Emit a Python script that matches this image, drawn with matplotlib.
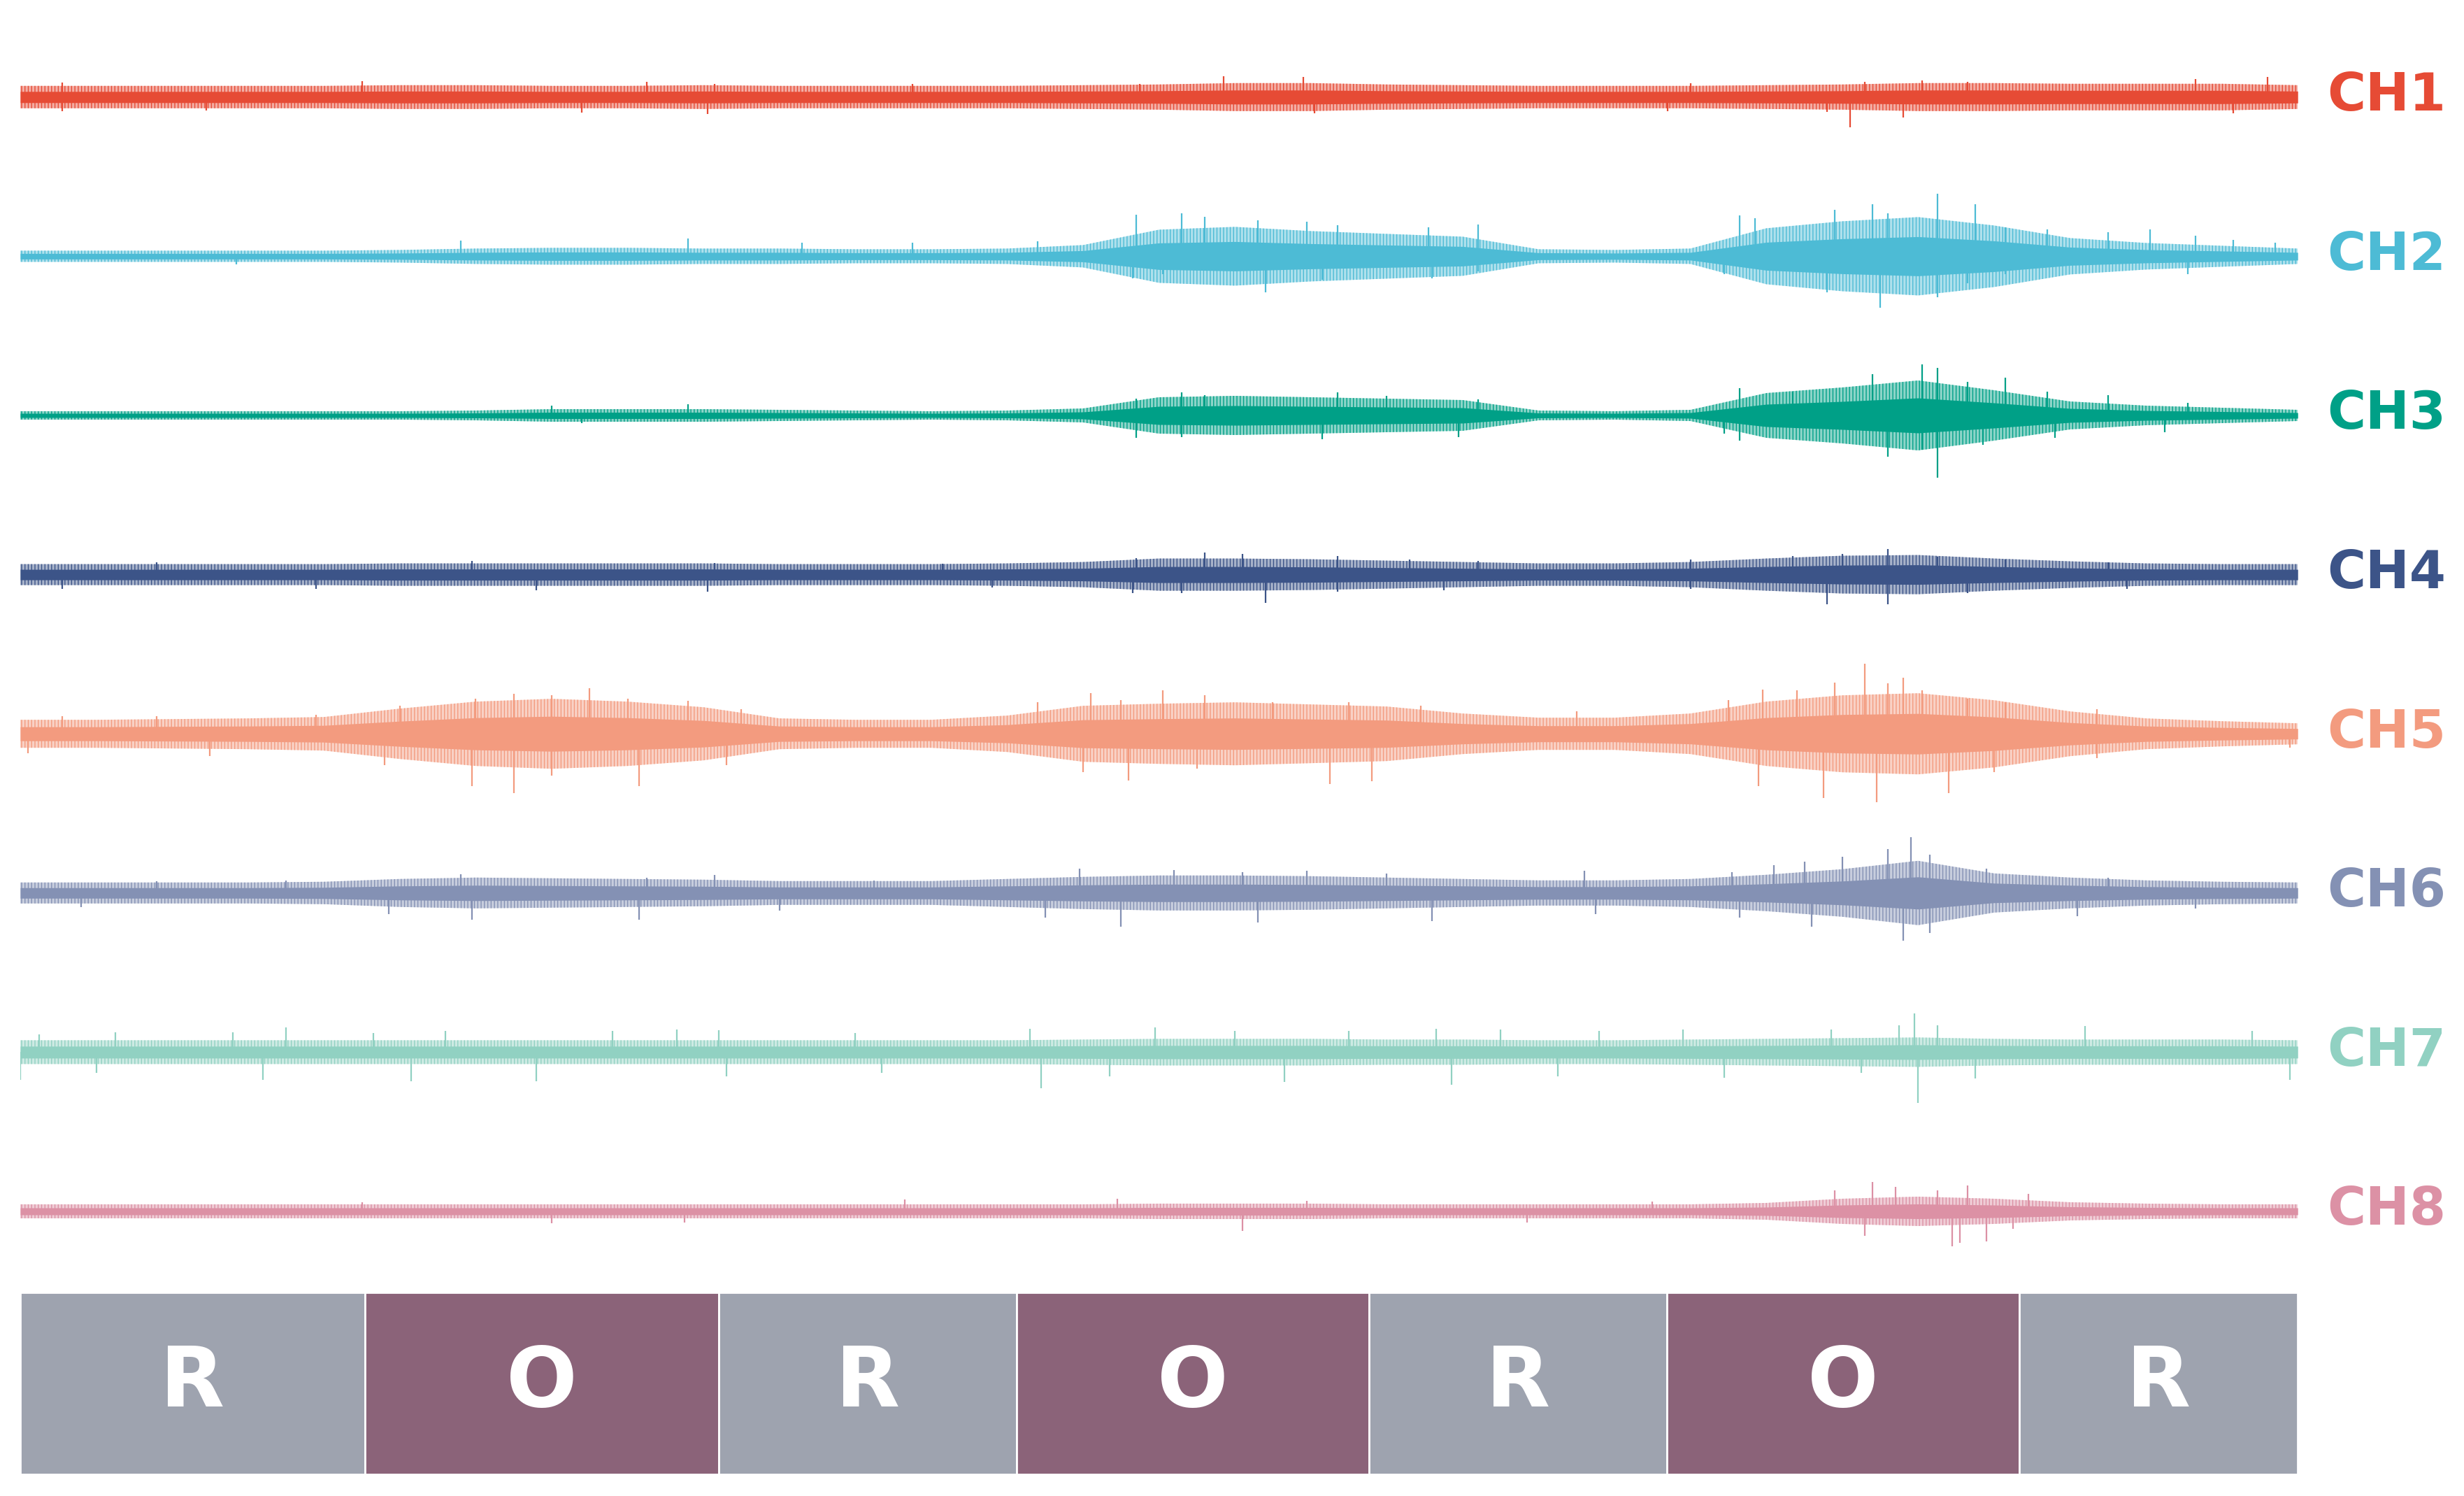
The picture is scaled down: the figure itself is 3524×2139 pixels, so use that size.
import matplotlib.pyplot as plt
import matplotlib.transforms as mtransforms
import numpy as np

# Time base (s) of the envelope readings, shared by all channels
env_t = np.arange(0, 61, 2)

# Envelope half-widths of the hairy part of each trace (a.u.)
ch1_env = [16, 16, 16, 16, 16, 17, 17, 16, 16, 17, 16, 16, 16, 16, 17, 18,
           20, 20, 18, 17, 16, 16, 16, 17, 18, 20, 20, 19, 19, 19, 17]
ch2_env = [8, 8, 8, 8, 8, 9, 11, 12, 12, 11, 11, 10, 10, 11, 16, 38,
           42, 36, 32, 28, 10, 9, 11, 40, 50, 56, 44, 26, 19, 15, 11]
ch3_env = [6, 6, 6, 6, 6, 6, 7, 9, 9, 9, 8, 7, 6, 7, 10, 26,
           28, 26, 24, 22, 7, 6, 8, 32, 40, 50, 36, 20, 14, 11, 8]
ch4_env = [15, 15, 15, 15, 15, 16, 16, 16, 16, 16, 15, 15, 15, 16, 18, 23,
           23, 22, 20, 18, 16, 16, 18, 23, 27, 28, 23, 19, 16, 15, 15]
ch5_env = [20, 20, 21, 22, 24, 36, 46, 50, 46, 38, 22, 20, 20, 26, 40, 43,
           45, 42, 39, 29, 23, 23, 29, 46, 55, 58, 48, 32, 22, 18, 15]
ch6_env = [15, 15, 15, 15, 16, 20, 22, 21, 20, 19, 17, 17, 17, 20, 23, 25,
           25, 24, 22, 20, 18, 18, 20, 26, 34, 46, 28, 22, 18, 16, 15]
ch7_env = [17, 17, 17, 17, 17, 17, 17, 17, 17, 17, 17, 17, 17, 17, 18, 19,
           19, 19, 18, 18, 17, 17, 18, 19, 20, 21, 19, 18, 18, 18, 17]
ch8_env = [10, 10, 10, 10, 10, 10, 10, 10, 10, 10, 10, 10, 10, 10, 10, 11,
           11, 11, 10, 10, 10, 10, 10, 12, 18, 21, 18, 13, 11, 10, 10]

# Prominent spikes (time in s, signed peak in a.u.)
ch1_spk = [(1.1, 21), (1.1, -20), (4.9, -19), (9.0, 23), (14.8, -22), (16.5, 22),
           (18.1, -24), (18.3, 19), (23.5, 19), (29.5, 19), (31.7, 30), (33.8, 29),
           (34.1, -23), (43.4, -20), (44.0, 20), (47.6, -21), (48.2, -43), (48.6, 22),
           (49.6, -29), (50.1, 24), (51.3, 22), (57.3, 26), (58.3, -23), (59.2, 29)]
ch2_spk = [(11.6, 22), (17.6, 25), (20.6, 19), (23.5, 19), (26.8, 21), (29.4, 59),
           (30.6, 61), (31.2, 56), (32.6, 51), (33.9, 49), (34.7, 44), (37.1, 41),
           (38.4, 45), (45.3, 58), (45.7, 54), (47.8, 66), (48.8, 74), (49.2, 61),
           (50.5, 89), (51.5, 74), (52.3, 41), (53.4, 38), (55.0, 34), (56.1, 38),
           (57.3, 29), (58.3, 23), (59.4, 19), (5.7, -12), (29.3, -32), (30.1, -26),
           (32.8, -52), (34.3, -34), (37.2, -32), (38.4, -22), (44.9, -26), (47.6, -52),
           (49.0, -74), (50.5, -59), (51.3, -39), (52.3, -26), (57.1, -26)]
ch3_spk = [(14.0, 14), (17.6, 16), (29.4, 24), (30.6, 33), (31.2, 29), (34.7, 33),
           (36.0, 28), (38.4, 23), (45.3, 39), (46.7, 34), (48.8, 59), (50.1, 73),
           (50.5, 68), (51.3, 48), (52.3, 54), (53.4, 34), (55.0, 29), (57.1, 18),
           (14.8, -11), (29.4, -32), (30.6, -31), (34.3, -34), (37.9, -31), (44.9, -26),
           (45.3, -36), (49.2, -59), (50.1, -49), (50.5, -89), (51.7, -42), (53.6, -32),
           (56.5, -24)]
ch4_spk = [(3.6, 18), (11.9, 20), (18.3, 17), (24.3, 16), (29.4, 24), (31.2, 32),
           (32.2, 30), (34.7, 27), (36.6, 22), (38.4, 20), (44.0, 22), (46.7, 27),
           (48.0, 30), (49.2, 37), (50.5, 26), (52.3, 22), (55.0, 18), (1.1, -20),
           (7.8, -20), (13.6, -22), (18.1, -24), (25.6, -18), (29.3, -26), (30.6, -26),
           (32.8, -40), (34.7, -24), (37.5, -22), (44.0, -20), (47.6, -42), (49.2, -42),
           (51.3, -26), (55.5, -20)]
ch5_spk = [(1.1, 25), (3.6, 25), (7.8, 27), (10.0, 40), (12.0, 50), (13.0, 57),
           (14.0, 55), (15.0, 65), (16.0, 50), (17.6, 47), (19.0, 35), (26.8, 45),
           (28.2, 58), (29.0, 48), (30.1, 62), (31.2, 55), (33.0, 45), (35.0, 45),
           (36.9, 40), (41.0, 32), (45.0, 48), (45.9, 63), (46.8, 62), (47.8, 73),
           (48.6, 100), (49.2, 72), (49.6, 80), (50.1, 62), (51.3, 50), (52.3, 45),
           (54.7, 35), (0.2, -28), (5.0, -32), (9.6, -45), (11.9, -75), (13.0, -85),
           (14.0, -60), (16.3, -75), (18.6, -45), (28.0, -55), (29.2, -67), (31.0, -50),
           (34.5, -72), (35.6, -68), (45.8, -75), (47.5, -92), (48.9, -98), (50.8, -85),
           (52.0, -55), (54.7, -35), (59.8, -20)]
ch6_spk = [(3.6, 17), (7.0, 18), (11.6, 27), (16.5, 22), (18.3, 26), (22.5, 18),
           (27.9, 35), (30.4, 33), (32.2, 30), (33.9, 32), (36.0, 28), (41.2, 32),
           (45.1, 30), (46.2, 40), (47.0, 45), (48.0, 52), (49.2, 63), (49.8, 80),
           (50.3, 55), (51.8, 35), (55.0, 22), (1.6, -20), (9.7, -30), (11.9, -38),
           (16.3, -38), (20.0, -25), (27.0, -35), (29.0, -48), (32.6, -42), (37.2, -40),
           (41.5, -30), (45.3, -35), (47.2, -48), (49.6, -68), (50.3, -57), (54.2, -33),
           (57.3, -22)]
ch7_spk = [(0.5, 25), (2.5, 28), (5.6, 28), (7.0, 35), (9.3, 27), (11.2, 30),
           (15.6, 30), (17.3, 32), (18.4, 31), (22.0, 27), (26.6, 33), (29.9, 35),
           (32.0, 30), (35.0, 30), (37.3, 33), (39.0, 32), (41.6, 30), (43.8, 32),
           (47.7, 32), (49.5, 38), (49.9, 55), (50.5, 38), (54.4, 37), (58.8, 30),
           (0.0, -40), (2.0, -30), (6.4, -40), (10.3, -42), (13.6, -42), (18.6, -35),
           (22.7, -30), (26.9, -52), (28.7, -35), (33.3, -43), (37.7, -47), (40.5, -35),
           (44.9, -37), (48.5, -30), (50.0, -73), (51.5, -38), (59.8, -40)]
ch8_spk = [(9.0, 13), (23.3, 17), (28.9, 18), (33.9, 15), (43.0, 14), (47.8, 30),
           (48.8, 42), (49.4, 35), (50.5, 30), (51.3, 37), (52.9, 25), (14.0, -17),
           (17.5, -16), (32.2, -28), (39.7, -16), (48.6, -35), (50.9, -50), (51.8, -43),
           (51.1, -45), (52.5, -25)]

channels = ["CH1", "CH2", "CH3", "CH4", "CH5", "CH6", "CH7", "CH8"]
envs = [ch1_env, ch2_env, ch3_env, ch4_env, ch5_env, ch6_env, ch7_env, ch8_env]
spikes = [ch1_spk, ch2_spk, ch3_spk, ch4_spk, ch5_spk, ch6_spk, ch7_spk, ch8_spk]
colors = ["#E64B35", "#4DBBD5", "#00A087", "#3C5488",
          "#F39B7F", "#8491B4", "#91D1C2", "#DC91A5"]

# Task blocks: R = rest, O = other
block_edges = [0, 9.08, 18.41, 26.25, 35.54, 43.38, 52.67, 60]
block_labels = ["R", "O", "R", "O", "R", "O", "R"]
block_colors = {"R": "#9EA3AF", "O": "#8B6379"}

t_end = 60
spacing = 227.6
plt.rcParams["hatch.linewidth"] = 0.5

fig = plt.figure(figsize=(17.62, 10.695), dpi=200)
ax = fig.add_axes([0.00823, 0.1398, 0.9243, 0.8602])
trans = mtransforms.blended_transform_factory(ax.transAxes, ax.transData)
for i, (name, env, spk, c) in enumerate(zip(channels, envs, spikes, colors)):
    off = (len(channels) - 1 - i) * spacing
    env = np.asarray(env)
    # hairy outer band + dense core
    ax.fill_between(env_t, off - env, off + env, facecolor=(c, 0.45),
                    edgecolor=c, hatch="|||||||", lw=0)
    ax.fill_between(env_t, off - 0.5 * env, off + 0.5 * env, color=c, lw=0)
    st = [s[0] for s in spk]
    sh = [s[1] for s in spk]
    ax.vlines(st, off, off + np.asarray(sh), color=c, lw=0.8)
    ax.annotate(name, xy=(1, off + 1), xycoords=trans, xytext=(15, 0),
                textcoords="offset points", ha="left", va="center",
                fontsize=27, fontweight="bold", color=c)
ax.set_xlim(0, t_end)
ax.set_ylim(-108, 1732)
ax.axis("off")

# Block bar
bx = fig.add_axes([0.00823, 0.0145, 0.9243, 0.1215])
for lab, a, b in zip(block_labels, block_edges[:-1], block_edges[1:]):
    bx.axvspan(a, b, color=block_colors[lab], ec="white", lw=1)
    bx.text((a + b) / 2, 0.5, lab, ha="center", va="center", color="white",
            fontsize=43, fontweight="bold")
bx.set_xlim(0, t_end)
bx.set_ylim(0, 1)
bx.axis("off")

fig.savefig("out.png", dpi=200, facecolor="white")
